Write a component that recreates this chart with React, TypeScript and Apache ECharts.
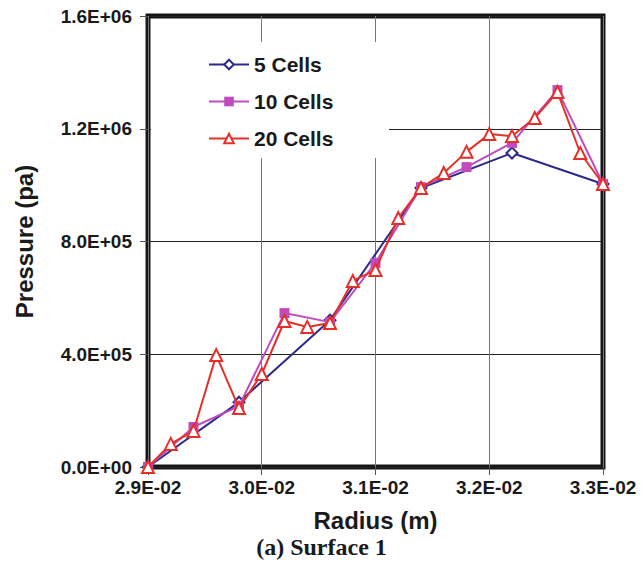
import React, { useEffect, useRef } from "react";
import * as echarts from "echarts";

const x5 = [0.029, 0.0298, 0.0306, 0.0314, 0.0322, 0.033];
const y5 = [0, 230000, 521000, 990000, 1114000, 1004000];

const x10 = [0.029, 0.0294, 0.0298, 0.0302, 0.0306, 0.031, 0.0314, 0.0318, 0.0322, 0.0326, 0.033];
const y10 = [0, 142000, 216000, 546000, 514000, 724000, 993000, 1064000, 1150000, 1337000, 1004000];

const x20 = [
  0.029, 0.0292, 0.0294, 0.0296, 0.0298, 0.03, 0.0302, 0.0304, 0.0306, 0.0308, 0.031,
  0.0312, 0.0314, 0.0316, 0.0318, 0.032, 0.0322, 0.0324, 0.0326, 0.0328, 0.033,
];
const y20 = [
  0, 82000, 128000, 397000, 209000, 330000, 518000, 497000, 511000, 660000, 699000,
  883000, 990000, 1043000, 1118000, 1181000, 1174000, 1238000, 1330000, 1114000, 1004000,
];

const seriesNames = ["5 Cells", "10 Cells", "20 Cells"];
const xTitle = "Radius (m)";
const yTitle = "Pressure (pa)";
const caption = "(a) Surface 1";

function sci(v: number): string {
  if (Math.abs(v) < 1e-15) return "0.0E+00";
  const e = Math.floor(Math.log10(Math.abs(v)) + 1e-9);
  const m = v / Math.pow(10, e);
  const sign = e < 0 ? "-" : "+";
  const ee = Math.abs(e).toString().padStart(2, "0");
  return m.toFixed(1) + "E" + sign + ee;
}

const pairs = (xs: number[], ys: number[]) => xs.map((x, i) => [x, ys[i]]);

export default function App() {
  const ref = useRef<HTMLDivElement>(null);
  useEffect(() => {
    if (!ref.current) return;
    const chart = echarts.init(ref.current, undefined, { renderer: "svg" });
    const font = "'Liberation Sans', Arial, Helvetica, sans-serif";
    chart.setOption({
      animation: false,
      backgroundColor: "#fff",
      grid: {
        left: 148,
        right: 40,
        top: 16,
        bottom: 106,
        show: true,
        borderColor: "#161616",
        borderWidth: 5,
        backgroundColor: "transparent",
      },
      xAxis: {
        type: "value",
        min: 0.029,
        max: 0.033,
        interval: 0.001,
        name: xTitle,
        nameLocation: "middle",
        nameGap: 41,
        nameTextStyle: { fontFamily: font, fontWeight: "bold", fontSize: 24, color: "#1a1a1a" },
        axisLine: { show: false },
        axisTick: { show: true, length: 8, lineStyle: { color: "#555", width: 1 } },
        axisLabel: {
          formatter: (v: number) => sci(v),
          fontFamily: font,
          fontWeight: "bold",
          fontSize: 19,
          color: "#1a1a1a",
          margin: 11,
        },
        splitLine: { show: true, lineStyle: { color: "#777", width: 1 } },
      },
      yAxis: {
        type: "value",
        min: 0,
        max: 1600000,
        interval: 400000,
        name: yTitle,
        nameLocation: "middle",
        nameGap: 112,
        nameTextStyle: { fontFamily: font, fontWeight: "bold", fontSize: 24, color: "#1a1a1a" },
        axisLine: { show: false },
        axisTick: { show: true, length: 8, lineStyle: { color: "#555", width: 1 } },
        axisLabel: {
          formatter: (v: number) => sci(v),
          fontFamily: font,
          fontWeight: "bold",
          fontSize: 19,
          color: "#1a1a1a",
          margin: 16,
        },
        splitLine: { show: true, lineStyle: { color: "#222", width: 1 } },
      },
      title: {
        text: caption,
        left: "center",
        top: 535,
        padding: 0,
        textStyle: {
          fontFamily: "'Liberation Serif', 'Times New Roman', serif",
          fontWeight: "bold",
          fontSize: 24,
          color: "#1a1a1a",
        },
      },
      graphic: [
        {
          type: "rect",
          z: 1,
          shape: { x: 151, y: 42, width: 238, height: 116 },
          style: { fill: "#fff" },
        },
      ],
      legend: {
        orient: "vertical",
        left: 203,
        top: 49,
        itemWidth: 40,
        itemHeight: 12,
        itemGap: 16,
        data: seriesNames,
        textStyle: { fontFamily: font, fontWeight: "bold", fontSize: 21, color: "#1a1a1a" },
      },
      series: [
        {
          name: seriesNames[0],
          type: "line",
          data: pairs(x5, y5),
          clip: false,
          symbol: "diamond",
          symbolSize: 11,
          lineStyle: { color: "#2d2a8a", width: 2 },
          itemStyle: { color: "#fff", borderColor: "#2d2a8a", borderWidth: 2 },
          z: 2,
        },
        {
          name: seriesNames[1],
          type: "line",
          data: pairs(x10, y10),
          clip: false,
          symbol: "rect",
          symbolSize: 10,
          lineStyle: { color: "#bf4cbf", width: 2 },
          itemStyle: { color: "#bf4cbf", borderColor: "#bf4cbf", borderWidth: 0 },
          z: 3,
        },
        {
          name: seriesNames[2],
          type: "line",
          data: pairs(x20, y20),
          clip: false,
          symbol: "triangle",
          symbolSize: 12,
          lineStyle: { color: "#e5302a", width: 2 },
          itemStyle: { color: "#fff", borderColor: "#e5302a", borderWidth: 2 },
          z: 4,
        },
      ],
    });
    return () => chart.dispose();
  }, []);
  return (
    <div
      ref={ref}
      style={{ position: "absolute", left: 0, top: 0, width: 643, height: 573 }}
    />
  );
}
